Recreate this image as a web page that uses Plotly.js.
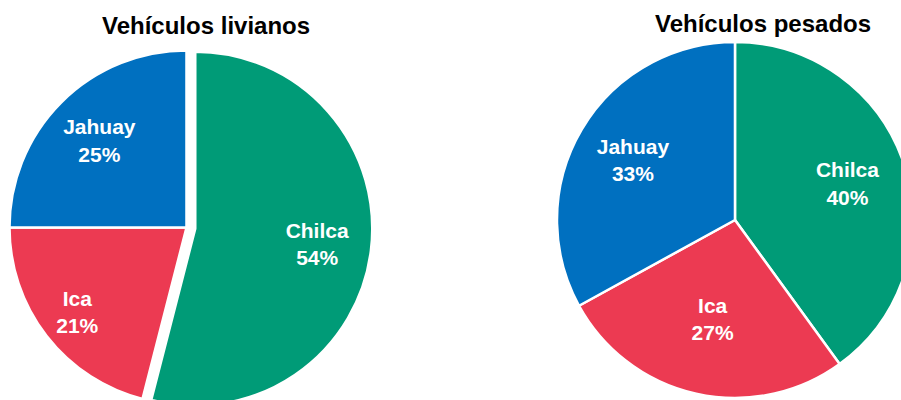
<!DOCTYPE html>
<html>
<head>
<meta charset="utf-8">
<script src="https://cdn.plot.ly/plotly-3.0.1.min.js"></script>
<style>
  html, body { margin: 0; padding: 0; overflow: hidden; background: #fff; }
  #chart { width: 920px; height: 420px; }
</style>
</head>
<body>
<div id="chart"></div>
<script>
const categories = ["Chilca", "Ica", "Jahuay"];
const livianos = [54, 21, 25];
const pesados = [40, 27, 33];
const sliceColors = ["#009B77", "#EC3A52", "#0070C0"];
const pullLivianos = [0.05, 0, 0];

const baseFont = "Liberation Sans, Arial, sans-serif";
const domLivianos = { x: [0.0007, 0.4047], y: [0.0158, 0.9008] };
const domPesados = { x: [0.6054, 0.9924], y: [0.0524, 0.9] };
const clear = "rgba(0,0,0,0)";

const pieBase = {
  type: "pie",
  labels: categories,
  sort: false,
  direction: "clockwise",
  rotation: 0,
  texttemplate: "%{label}<br>%{percent:.0%}",
  insidetextorientation: "horizontal",
  textfont: { family: baseFont, size: 21, color: "#ffffff", weight: "bold" },
  hoverinfo: "skip",
  showlegend: false
};

// visible slices
const slices = {
  ...pieBase,
  marker: { colors: sliceColors, line: { color: "#ffffff", width: 2.5 } }
};

// transparent rings on top, only used to push some labels further out
function labelRing(values, hole, positions, domain, pull) {
  return {
    ...pieBase,
    values: values,
    hole: hole,
    textposition: positions,
    marker: { colors: [clear, clear, clear], line: { width: 0 } },
    domain: domain,
    pull: pull || 0
  };
}

const data = [
  { ...slices, values: livianos, pull: pullLivianos, domain: domLivianos, textposition: "none" },
  labelRing(livianos, 0.39, ["inside", "none", "inside"], domLivianos, pullLivianos),
  labelRing(livianos, 0.56, ["none", "inside", "none"], domLivianos, pullLivianos),
  { ...slices, values: pesados, domain: domPesados, textposition: ["none", "inside", "none"] },
  labelRing(pesados, 0.33, ["inside", "none", "inside"], domPesados)
];

const titleFont = { family: baseFont, size: 24, color: "#000000", weight: "bold" };

const layout = {
  width: 920,
  height: 420,
  margin: { l: 0, r: 0, t: 0, b: 0 },
  paper_bgcolor: "#ffffff",
  font: { family: baseFont },
  annotations: [
    {
      text: "Vehículos livianos",
      x: 206 / 920, y: 1 - 25 / 420,
      xref: "paper", yref: "paper",
      xanchor: "center", yanchor: "middle",
      showarrow: false,
      font: titleFont
    },
    {
      text: "Vehículos pesados",
      x: 763 / 920, y: 1 - 23 / 420,
      xref: "paper", yref: "paper",
      xanchor: "center", yanchor: "middle",
      showarrow: false,
      font: titleFont
    }
  ]
};

Plotly.newPlot("chart", data, layout, { displayModeBar: false, staticPlot: true });
</script>
</body>
</html>
